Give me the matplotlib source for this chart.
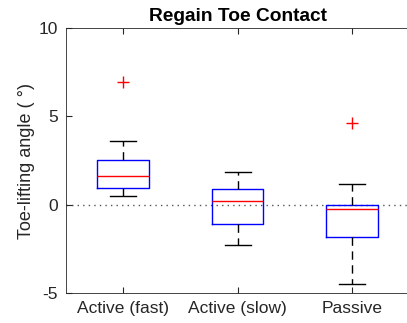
import matplotlib

matplotlib.use("Agg")
import matplotlib.pyplot as plt  # noqa: E402

plt.rcParams["font.family"] = ["Liberation Sans", "DejaVu Sans"]
plt.rcParams["axes.unicode_minus"] = False

# Values (degrees)
conditions = ["Active (fast)", "Active (slow)", "Passive"]
medians = [1.62, 0.19, -0.22]
q1 = [0.96, -1.07, -1.81]
q3 = [2.55, 0.89, -0.02]
whisker_lo = [0.47, -2.28, -4.47]
whisker_hi = [3.62, 1.83, 1.17]
outliers = [[6.93], [], [4.64]]

AX_COLOR = "#262626"

stats = [
    dict(med=m, q1=a, q3=b, whislo=lo, whishi=hi, fliers=f, label=lab)
    for m, a, b, lo, hi, f, lab in zip(medians, q1, q3, whisker_lo, whisker_hi, outliers, conditions)
]

fig = plt.figure(figsize=(4.07, 3.23), dpi=100)
ax = fig.add_axes([0.162, 0.093, 0.844, 0.82])

ax.axhline(0, color="#555555", linestyle=(0, (1, 3)), linewidth=1.0, zorder=0)

ax.bxp(
    stats,
    positions=[1, 2, 3],
    widths=0.45,
    showfliers=True,
    boxprops=dict(color="blue", linewidth=1.0),
    medianprops=dict(color="red", linewidth=1.0),
    whiskerprops=dict(color="black", linestyle=(0, (6, 4)), linewidth=1.0),
    capprops=dict(color="black", linewidth=1.0),
    capwidths=0.23,
    flierprops=dict(marker="+", markeredgecolor="red", markersize=8, linestyle="none"),
)

ax.set_xlim(0.5, 3.5)
ax.set_ylim(-5, 10)
ax.set_yticks([-5, 0, 5, 10])
ax.set_xticks([1, 2, 3])
ax.set_xticklabels(conditions)
ax.tick_params(direction="in", length=4, colors=AX_COLOR, labelsize=12.5, pad=6, top=True)
ax.tick_params(axis="y", which="both", right=False)
for side in ["left", "bottom", "top", "right"]:
    ax.spines[side].set_color(AX_COLOR)
    ax.spines[side].set_linewidth(0.6)
ax.set_ylabel("Toe-lifting angle ( °)", fontsize=13, color=AX_COLOR, labelpad=2)
ax.set_title("Regain Toe Contact", fontsize=13.75, fontweight="bold", pad=5)

fig.savefig("out.png", dpi=100)
plt.close(fig)
